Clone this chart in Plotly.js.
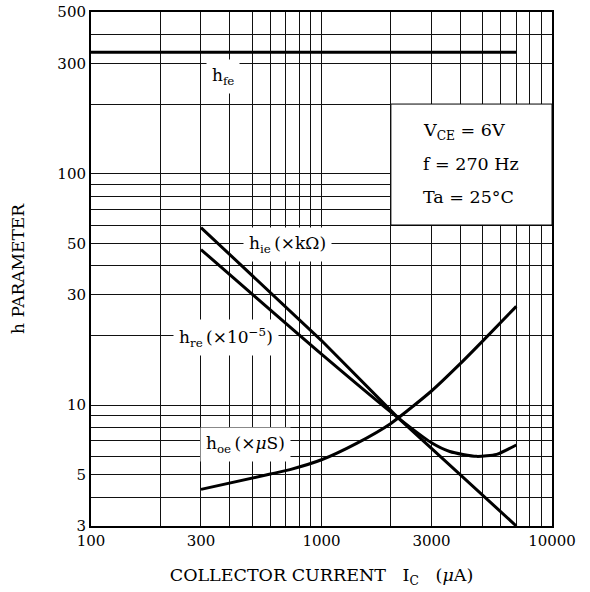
<!DOCTYPE html>
<html><head><meta charset="utf-8">
<script src="https://cdn.plot.ly/plotly-3.0.1.min.js"></script>
<style>html,body{margin:0;padding:0;background:#fff}</style>
</head><body>
<div id="chart" style="width:590px;height:592px"></div>
<script>
// Collector current (µA) and h-parameter values
const currentHfe = [100, 7000];
const hfeValues = [335, 335];
const currentHie = [300, 1000, 2150, 3050, 7000];
const hieValues = [58.5, 19.0, 8.8, 6.4, 3.0];
const currentHre = [300, 1000, 2150, 3000, 3600, 4700, 5750, 7000];
const hreValues = [47, 16.6, 8.8, 6.87, 6.3, 6.0, 6.12, 6.72];
const currentHoe = [300, 600, 730, 1000, 1420, 2000, 3000, 4000, 5000, 7000];
const hoeValues = [4.32, 5.03, 5.26, 5.8, 6.83, 8.33, 11.5, 15.1, 18.9, 26.7];

const xTickVals = [100, 300, 1000, 3000, 10000];
const xTickText = ['100', '300', '1000', '3000', '10000'];
const yTickVals = [3, 5, 10, 30, 50, 100, 300, 500];
const yTickText = ['3', '5', '10', '30', '50', '100', '300', '500'];
const xMinorGrid = [200, 400, 500, 600, 700, 800, 900, 2000, 4000, 5000, 6000, 7000, 8000, 9000];
const yMinorGrid = [4, 6, 7, 8, 9, 20, 40, 60, 70, 80, 90, 200, 400];

const FONT = 'DejaVu Serif, Liberation Serif, serif';
const lineStyle = {color: '#000', width: 3};

const traces = [
  {x: currentHfe, y: hfeValues, mode: 'lines', line: lineStyle, name: 'hfe'},
  {x: currentHie, y: hieValues, mode: 'lines', line: lineStyle, name: 'hie'},
  {x: currentHre, y: hreValues, mode: 'lines', line: Object.assign({shape: 'spline', smoothing: 0.6}, lineStyle), name: 'hre'},
  {x: currentHoe, y: hoeValues, mode: 'lines', line: Object.assign({shape: 'spline', smoothing: 0.6}, lineStyle), name: 'hoe'}
];

const L = Math.log10;
function label(text, x, y, extra) {
  return Object.assign({text: text, x: L(x), y: L(y), xref: 'x', yref: 'y', showarrow: false,
    bgcolor: '#fff', borderpad: 5, font: {family: FONT, size: 17, color: '#000'}}, extra || {});
}
const infoFont = {family: FONT, size: 17.5, color: '#000'};

const layout = {
  width: 590, height: 592,
  margin: {l: 91, r: 38, t: 12, b: 66},
  paper_bgcolor: '#fff', plot_bgcolor: '#fff',
  showlegend: false,
  font: {family: FONT, size: 15, color: '#000'},
  xaxis: {
    type: 'log', range: [2, 4],
    tickvals: xTickVals, ticktext: xTickText, ticks: '',
    showgrid: true, gridcolor: '#111', gridwidth: 1,
    minor: {tickvals: xMinorGrid, showgrid: true, gridcolor: '#111', gridwidth: 1, ticks: ''},
    showline: true, linecolor: '#000', linewidth: 2, mirror: true,
    zeroline: false, tickfont: {family: FONT, size: 15},
    title: {text: 'COLLECTOR CURRENT\u00a0\u00a0\u00a0I<sub>C</sub>\u00a0\u00a0\u00a0(<i>\u03bc</i>A)', font: {family: FONT, size: 17.5}, standoff: 20}
  },
  yaxis: {
    type: 'log', range: [L(3), L(500)],
    tickvals: yTickVals, ticktext: yTickText, ticks: '',
    showgrid: true, gridcolor: '#111', gridwidth: 1,
    minor: {tickvals: yMinorGrid, showgrid: true, gridcolor: '#111', gridwidth: 1, ticks: ''},
    showline: true, linecolor: '#000', linewidth: 2, mirror: true,
    zeroline: false, tickfont: {family: FONT, size: 15},
    title: {text: 'h PARAMETER', font: {family: FONT, size: 17}, standoff: 28}
  },
  shapes: [
    {type: 'rect', xref: 'x', yref: 'y', x0: 2000, x1: 10000, y0: 60, y1: 200,
     fillcolor: '#fff', line: {color: '#000', width: 1}, layer: 'above'}
  ],
  annotations: [
    label('h<sub>fe</sub>', 374, 262),
    label('h<sub>ie</sub>\u2009(\u00d7k\u03a9)', 712, 49.5),
    label('h<sub>re</sub>\u2009(\u00d710<sup>\u22125</sup>)', 386, 19.5),
    label('h<sub>oe</sub>\u2009(\u00d7<i>\u03bc</i>S)', 466, 6.75),
    label('V<sub>CE</sub> = 6V', 2718, 152, {xanchor: 'left', bgcolor: 'rgba(0,0,0,0)', borderpad: 0, font: infoFont}),
    label('f = 270 Hz', 2718, 110, {xanchor: 'left', bgcolor: 'rgba(0,0,0,0)', borderpad: 0, font: infoFont}),
    label('Ta = 25\u00b0C', 2718, 79.6, {xanchor: 'left', bgcolor: 'rgba(0,0,0,0)', borderpad: 0, font: infoFont})
  ]
};

Plotly.newPlot('chart', traces, layout, {displayModeBar: false, staticPlot: true});
</script>
</body></html>
